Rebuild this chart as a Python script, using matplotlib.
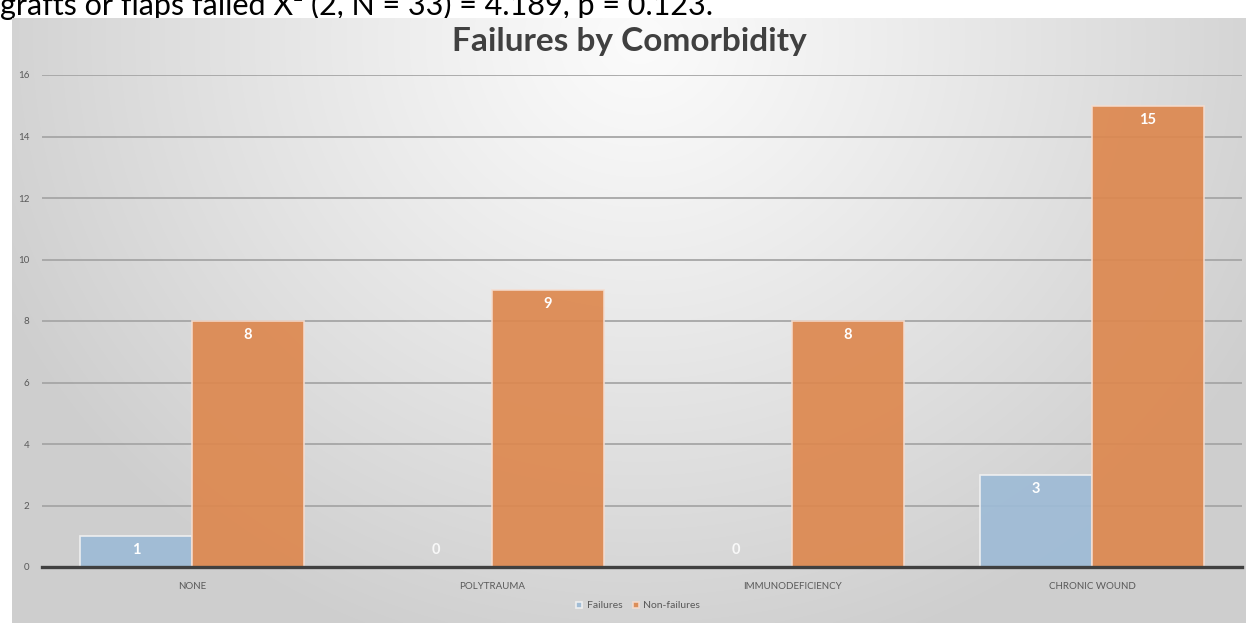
import numpy as np
import matplotlib
matplotlib.use("Agg")
import matplotlib.pyplot as plt

categories = ["NONE", "POLYTRAUMA", "IMMUNODEFICIENCY", "CHRONIC WOUND"]
failures = [1, 0, 0, 3]
non_failures = [8, 9, 8, 15]
series_names = ["Failures", "Non-failures"]
yticks = [0, 2, 4, 6, 8, 10, 12, 14, 16]
title = "Failures by Comorbidity"
top_text = "grafts or flaps failed X\u00b2 (2, N = 33) = 4.189, p = 0.123."

W, H = 1248, 623
fig = plt.figure(figsize=(W / 100, H / 100), dpi=100)
fig.patch.set_facecolor("white")
FONT = ["Lato", "DejaVu Sans"]

# cropped sentence above the chart panel
fig.text(0.0, 1 - 15 / H, top_text, fontsize=22, family=FONT, color="black",
         ha="left", va="baseline", zorder=0)

# chart panel with radial gradient
px0, px1, py0, py1 = 12, 1246, 18, 623
bg = fig.add_axes([px0 / W, 0, (px1 - px0) / W, (py1 - py0) / H], zorder=1)
nx, ny = px1 - px0, py1 - py0
xx, yy = np.meshgrid(np.arange(nx), np.arange(ny))
cx, cy = 640 - px0, 40 - py0
d = np.sqrt(((xx - cx) / 700.0) ** 2 + ((yy - cy) / 640.0) ** 2)
d = np.clip(d, 0, 1)
val = 0.985 - 0.175 * d ** 1.1
img = np.dstack([val, val, val])
bg.imshow(img, aspect="auto", extent=[0, 1, 0, 1], origin="upper")
bg.set_axis_off()

# main axes
ax = fig.add_axes([42 / W, 56 / H, 1200 / W, (567 - 75) / H], zorder=2)
ax.patch.set_alpha(0)
x = np.arange(len(categories))
bw = 0.373
blue = "#9ebbd6"
orange = "#dd884f"
ax.set_axisbelow(True)
b1 = ax.bar(x - bw / 2, failures, bw, color=blue, alpha=0.92,
            edgecolor="#f2f2f2", linewidth=1.2, label=series_names[0], zorder=2)
b2 = ax.bar(x + bw / 2, non_failures, bw, color=orange, alpha=0.92,
            edgecolor="#f5ddd0", linewidth=1.2, label=series_names[1], zorder=2)
for bars, vals in ((b1, failures), (b2, non_failures)):
    for r, v in zip(bars, vals):
        off = -14 if v > 0 else 17
        ax.annotate(str(v), (r.get_x() + r.get_width() / 2, v),
                    xytext=(0, off), textcoords="offset pixels",
                    ha="center", va="center", color="white", fontsize=10.5,
                    fontweight="bold", family=FONT, zorder=4,
                    alpha=1.0 if v > 0 else 0.85)

ax.set_xlim(-0.5, len(categories) - 0.5)
ax.set_ylim(0, 16)
ax.set_yticks(yticks)
ax.set_yticklabels([str(t) for t in yticks])
ax.set_xticks(x)
ax.set_xticklabels(categories)
ax.grid(axis="y", color="#a6a6a6", linewidth=1.3, zorder=0)
ax.tick_params(axis="both", length=0, labelsize=7, labelcolor="#595959")
ax.tick_params(axis="y", pad=9)
ax.tick_params(axis="x", pad=11)
for lab in ax.get_xticklabels() + ax.get_yticklabels():
    lab.set_family(FONT)
for s in ("top", "right", "left"):
    ax.spines[s].set_visible(False)
ax.spines["bottom"].set_color("#404040")
ax.spines["bottom"].set_linewidth(2.4)
ax.spines["bottom"].set_zorder(3)

fig.text(629 / W, 1 - 42 / H, title, fontsize=24, fontweight="bold", family=FONT,
         color="#404040", ha="center", va="center", zorder=3)

leg = fig.legend(handles=[b1, b2], labels=series_names, loc="center",
                 bbox_to_anchor=(638 / W, 1 - 606 / H), ncol=2, frameon=False,
                 handlelength=0.6, handleheight=0.6, handletextpad=0.4,
                 columnspacing=1.0, prop={"family": FONT, "size": 7.5})
for t in leg.get_texts():
    t.set_color("#595959")
leg.set_zorder(3)

fig.savefig("out.png", dpi=100, facecolor="white")
